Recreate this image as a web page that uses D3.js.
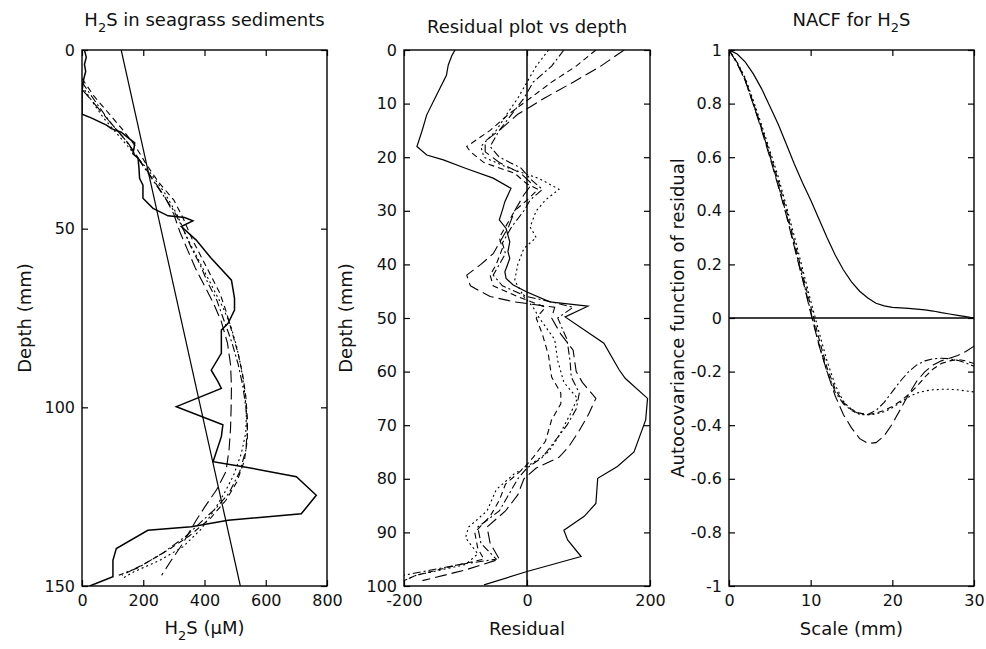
<!DOCTYPE html>
<html><head><meta charset="utf-8">
<script src="https://cdn.jsdelivr.net/npm/d3@7/dist/d3.min.js"></script>
<style>
body{margin:0;background:#fff}
text{font-family:"DejaVu Sans",sans-serif;fill:#111}
</style>
</head><body>
<svg id="c" width="986" height="649"></svg>
<script>
// ---------- Panel 1: H2S profile (depth in mm, H2S in uM) ----------
const obsDepth = [0,2,4,6,8,10,12,18,19,21,22,23,24.5,26,27.5,29,30.3,33,35.9,37.8,41.5,44.3,46.4,46.9,47.8,49.4,53.2,58.3,64.4,69.5,72.8,76.5,78.4,84.9,89.6,92.8,94.7,99.8,104.9,108.2,115.2,116.6,119.4,124.6,129.8,131.6,133.4,134.4,139.5,142.8,147.4,150];
const obsConc  = [8,14,8,12,6,2,0,0,30,80,96,128,150,172,170,166,183,186,188,199,199,232,281,335,362,324,373,422,488,498,498,477,455,455,422,444,455,308,460,455,428,526,700,765,716,477,357,215,112,101,101,25];
const fitDepth = [0,150];
const fitConc  = [128,517];
const smDepthA = [8,13,17,22,27,32,37,42,47,53,58,63,68,73,79,85,91,97,103,109,115,121,126,131,136,140,144,147];
const smConcA  = [0,40,80,130,175,210,250,300,330,360,390,420,450,470,490,510,525,535,540,540,530,505,470,420,350,280,200,130];
const smDepthB = [10,14,19,24,29,34,40,46,52,57,62,67,72,77,83,89,95,101,107,113,119,124,129,134,139,143,146,148];
const smConcB  = [0,30,70,120,170,220,270,310,340,370,400,430,460,485,505,520,530,537,535,520,495,465,430,390,330,250,170,130];
const smDepthC = [9,14,20,25,30,35,40,45,50,55,60,65,70,76,82,88,94,100,106,112,118,124,128,132,136,141,145,147];
const smConcC  = [0,40,90,140,180,220,260,300,330,355,385,410,440,465,490,510,525,535,540,535,515,480,440,390,340,260,180,120];
const smDepthD = [11,16,21,26,31,36,41,46,51,56,61,66,71,76,82,88,94,100,106,112,118,123,128,132,138,143,147];
const smConcD  = [0,50,100,150,190,230,270,300,320,345,370,400,430,455,475,485,488,487,485,480,470,440,400,370,330,290,260];

// ---------- Panel 2: residuals vs depth ----------
const resDepth0 = [0,1,2.8,4.7,8.4,12.1,15.2,18,19.6,20.5,22.1,23.9,25.8,28.3,29.5,31.7,33.3,35.8,37.6,38.9,41.4,42.6,43.8,45.1,47,47.8,49.8,54.7,59.7,61.3,65,69,70.6,75,77.7,79.9,84.6,87,89.6,91.4,94.5,97.3,99.8];
const resVal0   = [-117,-122,-128,-131,-147,-163,-171,-179,-163,-136,-99,-55,-26,-36,-39,-45,-34,-28,-31,-28,-36,-34,-23,-1,37,99,62,125,150,160,196,193,188,174,147,115,112,93,60,66,88,0,-70];
const resDepthA = [0,3,6,9,12,15,17,19,21,23,25,27,30,33,36,38,40,42,44,46,47,48,50,53,56,60,62,65,68,71,74,76,78,80,83,86,89,92,95,97,99];
const resValA   = [158,120,75,28,-15,-45,-68,-68,-45,-10,8,-5,-20,-30,-45,-55,-75,-98,-92,-60,-20,45,40,55,75,80,90,112,100,85,68,52,15,-5,-15,-35,-65,-60,-45,-100,-170];
const resDepthB = [0,3,6,9,12,15,18,19,21,23,25,26,28,30,33,35,37,40,42,44,46,48,50,53,57,61,64,66,69,73,76,78,81,84,87,90,93,95,96,98,99];
const resValB   = [112,80,40,5,-30,-60,-98,-92,-70,-20,0,18,0,-20,-35,-45,-40,-50,-60,-55,-15,30,15,25,35,40,55,55,40,30,10,-5,-35,-45,-60,-85,-80,-70,-110,-180,-200];
const resDepthC = [0,3,6,9,12,15,18,20,22,24,26,28,30,33,35,37,40,43,46,48,50,54,58,62,65,68,72,75,77,79,82,86,89,91,94,96,98,99];
const resValC   = [35,15,0,-15,-33,-50,-75,-70,-30,20,52,30,15,5,15,-5,-15,-20,-5,10,20,45,50,60,82,70,52,35,10,-20,-50,-65,-95,-100,-80,-100,-180,-200];
const resDepthD = [0,3,6,9,12,15,18,20,22,24,26,28,30,33,36,38,40,42,44,46,47,48,50,54,58,61,64,67,70,73,76,78,80,83,86,89,92,95,96,98];
const resValD   = [60,40,10,-5,-25,-45,-60,-45,-10,5,25,5,-5,-25,-40,-35,-45,-55,-40,0,40,75,50,65,70,72,85,80,65,45,25,0,-15,-30,-45,-80,-75,-50,-110,-200];

// ---------- Panel 3: NACF ----------
const lag = [0,1,2,3,4,5,6,7,8,9,10,11,12,13,14,15,16,17,18,19,20,21,22,23,24,25,26,27,28,29,30];
const nacf0 = [1,0.985,0.955,0.91,0.855,0.79,0.725,0.65,0.575,0.505,0.44,0.37,0.3,0.235,0.18,0.135,0.1,0.075,0.055,0.045,0.04,0.038,0.036,0.033,0.03,0.026,0.02,0.015,0.01,0.005,0];
const nacfA = [1,0.95,0.885,0.795,0.7,0.6,0.495,0.385,0.265,0.145,0.02,-0.1,-0.2,-0.29,-0.36,-0.41,-0.45,-0.468,-0.465,-0.44,-0.395,-0.34,-0.285,-0.235,-0.2,-0.175,-0.16,-0.15,-0.14,-0.125,-0.105];
const nacfB = [1,0.953,0.89,0.8,0.71,0.615,0.515,0.405,0.285,0.165,0.045,-0.075,-0.185,-0.265,-0.315,-0.34,-0.355,-0.36,-0.355,-0.345,-0.33,-0.31,-0.285,-0.255,-0.22,-0.19,-0.17,-0.16,-0.155,-0.16,-0.17];
const nacfC = [1,0.955,0.895,0.81,0.72,0.625,0.53,0.42,0.305,0.185,0.065,-0.05,-0.16,-0.25,-0.31,-0.345,-0.36,-0.362,-0.358,-0.35,-0.335,-0.315,-0.295,-0.28,-0.272,-0.268,-0.266,-0.266,-0.268,-0.272,-0.276];
const nacfD = [1,0.95,0.885,0.795,0.705,0.605,0.5,0.39,0.27,0.15,0.025,-0.095,-0.2,-0.275,-0.32,-0.345,-0.357,-0.36,-0.345,-0.315,-0.275,-0.235,-0.2,-0.175,-0.16,-0.152,-0.15,-0.152,-0.158,-0.168,-0.18];

// ---------- tick values ----------
const p1XTicks = [0,200,400,600,800];
const p1YTicks = [0,50,100,150];
const p2XTicks = [-200,0,200];
const p2YTicks = [0,10,20,30,40,50,60,70,80,90,100];
const p3XTicks = [0,10,20,30];
const p3YTicks = [1,0.8,0.6,0.4,0.2,0,-0.2,-0.4,-0.6,-0.8,-1];

const DASH = {solid:null, dash:"6,4", dot:"2,3", dashdot:"8,3,2,3", longdash:"12,5"};

const svg = d3.select('#c');
const fmt = d => String(+(+d).toFixed(1));
let clipId = 0;

function panel(cfg){
  const g = svg.append('g');
  const x = d3.scaleLinear().domain(cfg.xDomain).range([cfg.left, cfg.right]);
  const y = d3.scaleLinear().domain(cfg.yDomain).range([cfg.top, cfg.bottom]);
  const axes = [
    [d3.axisBottom(x).tickValues(cfg.xTicks).tickFormat(fmt).tickPadding(9), `translate(0,${cfg.bottom})`],
    [d3.axisTop(x).tickValues(cfg.xTicks).tickFormat('').tickPadding(7), `translate(0,${cfg.top})`],
    [d3.axisLeft(y).tickValues(cfg.yTicks).tickFormat(fmt).tickPadding(7), `translate(${cfg.left},0)`],
    [d3.axisRight(y).tickValues(cfg.yTicks).tickFormat('').tickPadding(7), `translate(${cfg.right},0)`]
  ];
  axes.forEach(([ax,tr])=>{
    const a = g.append('g').attr('transform',tr)
      .call(ax.tickSize(-6));
    a.attr('font-family',null).attr('font-size',null);
    a.select('.domain').remove();
    a.selectAll('.tick line').attr('stroke','#000').attr('stroke-width',1.2);
    a.selectAll('.tick text').style('font-size','16px').style('font-family','"DejaVu Sans",sans-serif').attr('fill','#111');
  });
  const id = 'clip'+(clipId++);
  g.append('clipPath').attr('id',id).append('rect')
    .attr('x',cfg.left).attr('y',cfg.top).attr('width',cfg.right-cfg.left).attr('height',cfg.bottom-cfg.top);
  const lines = g.append('g').attr('clip-path',`url(#${id})`);
  return {g, x, y, lines, cfg};
}

function addLine(p, xs, ys, style, w){
  const pts = xs.map((v,i)=>[v, ys[i]]);
  const line = d3.line().x(d=>p.x(d[0])).y(d=>p.y(d[1]));
  p.lines.append('path').attr('d', line(pts)).attr('fill','none')
    .attr('stroke','#000').attr('stroke-width', w||1.1)
    .attr('stroke-dasharray', DASH[style]);
}

function box(p){
  const c = p.cfg;
  p.g.append('rect').attr('x',c.left).attr('y',c.top).attr('width',c.right-c.left).attr('height',c.bottom-c.top)
    .attr('fill','none').attr('stroke','#000').attr('stroke-width',1.4);
}

function subText(parent, x, y, parts, opts){
  const t = parent.append('text').attr('x',x).attr('y',y).attr('text-anchor','middle')
    .style('font-size','18px');
  if (opts && opts.rotate) t.attr('transform',`rotate(-90,${x},${y})`);
  parts.forEach(pt=>{
    const s = t.append('tspan').text(pt.t);
    if (pt.sub) s.attr('dy',6).style('font-size','13px');
    if (pt.up) s.attr('dy',-6);
  });
  return t;
}

const plotTop = 50, plotBottom = 586;

// Panel 1
const p1 = panel({left:82,right:327,top:plotTop,bottom:plotBottom,xDomain:[0,800],yDomain:[0,150],xTicks:p1XTicks,yTicks:p1YTicks});
addLine(p1, fitConc, fitDepth, 'solid', 1.2);
addLine(p1, smConcA, smDepthA, 'dash');
addLine(p1, smConcB, smDepthB, 'dot');
addLine(p1, smConcC, smDepthC, 'dashdot');
addLine(p1, smConcD, smDepthD, 'longdash');
addLine(p1, obsConc, obsDepth, 'solid', 1.5);
box(p1);
subText(svg, 204.5, 26, [{t:'H'},{t:'2',sub:true},{t:'S in seagrass sediments',up:true}]);
subText(svg, 204.5, 634, [{t:'H'},{t:'2',sub:true},{t:'S (\u03BCM)',up:true}]);
subText(svg, 31, 318, [{t:'Depth (mm)'}], {rotate:true});

// Panel 2
const p2 = panel({left:404,right:650,top:plotTop,bottom:plotBottom,xDomain:[-200,200],yDomain:[0,100],xTicks:p2XTicks,yTicks:p2YTicks});
addLine(p2, [0,0], [0,100], 'solid', 1.5);
addLine(p2, resValA, resDepthA, 'longdash');
addLine(p2, resValB, resDepthB, 'dash');
addLine(p2, resValC, resDepthC, 'dot');
addLine(p2, resValD, resDepthD, 'dashdot');
addLine(p2, resVal0, resDepth0, 'solid', 1.2);
box(p2);
subText(svg, 527, 33, [{t:'Residual plot vs depth'}]);
subText(svg, 527, 635, [{t:'Residual'}]);
subText(svg, 352, 318, [{t:'Depth (mm)'}], {rotate:true});

// Panel 3
const p3 = panel({left:729,right:974,top:plotTop,bottom:plotBottom,xDomain:[0,30],yDomain:[1,-1],xTicks:p3XTicks,yTicks:p3YTicks});
addLine(p3, [0,30], [0,0], 'solid', 1.5);
addLine(p3, lag, nacfA, 'longdash');
addLine(p3, lag, nacfB, 'dash');
addLine(p3, lag, nacfC, 'dot');
addLine(p3, lag, nacfD, 'dashdot');
addLine(p3, lag, nacf0, 'solid', 1.2);
box(p3);
subText(svg, 851.5, 26, [{t:'NACF for H'},{t:'2',sub:true},{t:'S',up:true}]);
subText(svg, 851.5, 635, [{t:'Scale (mm)'}]);
subText(svg, 684, 318, [{t:'Autocovariance function of residual'}], {rotate:true});
</script>
</body></html>
